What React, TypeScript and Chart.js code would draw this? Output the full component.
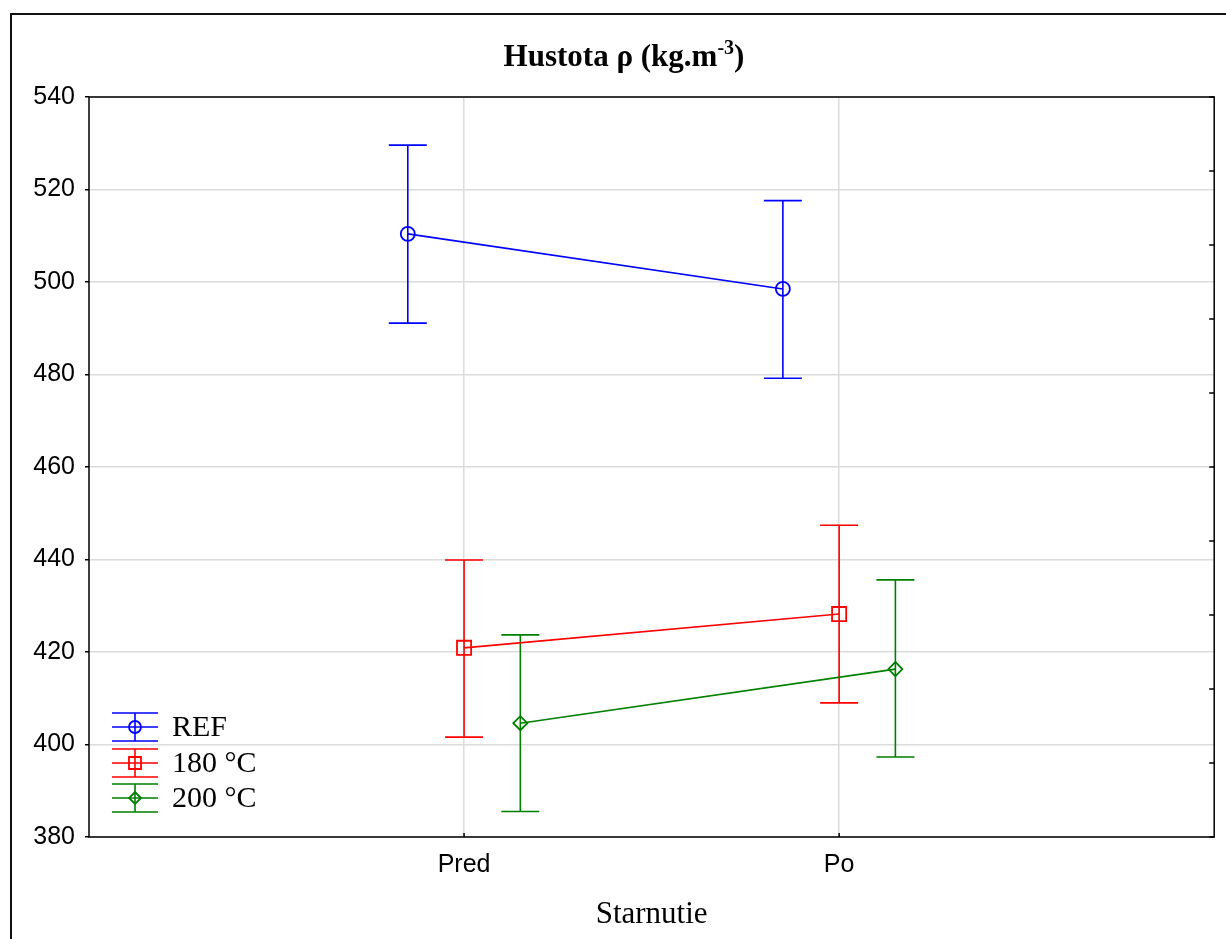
import React, { useEffect, useRef } from 'react';
import { Chart, registerables } from 'chart.js';

Chart.register(...registerables);

// ---- data ----
const categories = ['Pred', 'Po'];
const seriesLabels = ['REF', '180 °C', '200 °C'];
const refMean = [510.4, 498.5];
const refLow = [491.1, 479.2];
const refHigh = [529.6, 517.6];
const t180Mean = [420.9, 428.2];
const t180Low = [401.6, 409.0];
const t180High = [439.9, 447.4];
const t200Mean = [404.6, 416.3];
const t200Low = [385.5, 397.3];
const t200High = [423.7, 435.6];
const yMin = 380;
const yMax = 540;
const yStep = 20;
const rightMinorStep = 16;
const titleMain = 'Hustota ρ (kg.m';
const titleSup = '-3';
const titleEnd = ')';
const xTitle = 'Starnutie';

// ---- styles ----
const colors = ['#0000ff', '#ff0000', '#008000'];
const pointStyles = ['circle', 'rect', 'rectRot'];
const pointRadii = [7, 10, 7];
const seriesOffsets = [-0.15, 0, 0.15];
const SERIF = '"Liberation Serif", "Times New Roman", serif';
const SANS = '"Liberation Sans", Arial, sans-serif';

function buildDataset(i: number, means: number[], lows: number[], highs: number[]) {
  return {
    label: seriesLabels[i],
    data: means.map((v, k) => ({ x: k + 1 + seriesOffsets[i], y: v })),
    errLow: lows,
    errHigh: highs,
    borderColor: colors[i],
    backgroundColor: 'rgba(0,0,0,0)',
    pointBackgroundColor: 'rgba(0,0,0,0)',
    pointBorderColor: colors[i],
    pointBorderWidth: 1.8,
    pointStyle: pointStyles[i],
    pointRadius: pointRadii[i],
    borderWidth: 1.6,
    showLine: true,
    tension: 0,
  };
}

function drawMarker(ctx: CanvasRenderingContext2D, style: string, x: number, y: number, r: number) {
  ctx.beginPath();
  if (style === 'circle') {
    ctx.arc(x, y, r, 0, Math.PI * 2);
  } else if (style === 'rect') {
    const s = r * Math.SQRT1_2;
    ctx.rect(x - s, y - s, 2 * s, 2 * s);
  } else {
    ctx.moveTo(x, y - r);
    ctx.lineTo(x + r, y);
    ctx.lineTo(x, y + r);
    ctx.lineTo(x - r, y);
    ctx.closePath();
  }
  ctx.stroke();
}

const decorPlugin = {
  id: 'decor',
  beforeDatasetsDraw(chart: any) {
    const ctx: CanvasRenderingContext2D = chart.ctx;
    const { left, right, top, bottom } = chart.chartArea;
    const ys = chart.scales.y;
    const xs = chart.scales.x;
    ctx.save();
    // plot frame
    ctx.strokeStyle = '#000';
    ctx.lineWidth = 1.5;
    ctx.strokeRect(left, top, right - left, bottom - top);
    // right axis inner ticks
    ctx.beginPath();
    for (let v = yMax; v >= yMin; v -= rightMinorStep) {
      const py = ys.getPixelForValue(v);
      ctx.moveTo(right - 5, py);
      ctx.lineTo(right, py);
    }
    // bottom axis inner ticks
    categories.forEach((_, i) => {
      const px = xs.getPixelForValue(i + 1);
      ctx.moveTo(px, bottom);
      ctx.lineTo(px, bottom - 4);
    });
    ctx.stroke();
    // outer frame
    ctx.lineWidth = 2;
    ctx.strokeStyle = '#111';
    ctx.beginPath();
    ctx.moveTo(11, chart.height + 2);
    ctx.lineTo(11, 14);
    ctx.lineTo(chart.width + 2, 14);
    ctx.stroke();

    // error bars
    chart.data.datasets.forEach((ds: any, di: number) => {
      const meta = chart.getDatasetMeta(di);
      ctx.strokeStyle = ds.borderColor;
      ctx.lineWidth = 1.6;
      ctx.beginPath();
      meta.data.forEach((pt: any, i: number) => {
        const x = pt.x;
        const yl = ys.getPixelForValue(ds.errLow[i]);
        const yh = ys.getPixelForValue(ds.errHigh[i]);
        ctx.moveTo(x, yh);
        ctx.lineTo(x, yl);
        ctx.moveTo(x - 19, yh);
        ctx.lineTo(x + 19, yh);
        ctx.moveTo(x - 19, yl);
        ctx.lineTo(x + 19, yl);
      });
      ctx.stroke();
    });
    ctx.restore();
  },
  afterDraw(chart: any) {
    const ctx: CanvasRenderingContext2D = chart.ctx;
    ctx.save();
    // title with superscript
    const mainFont = `bold 31px ${SERIF}`;
    const supFont = `bold 20px ${SERIF}`;
    ctx.font = mainFont;
    const w1 = ctx.measureText(titleMain).width;
    const w3 = ctx.measureText(titleEnd).width;
    ctx.font = supFont;
    const w2 = ctx.measureText(titleSup).width;
    const total = w1 + w2 + w3;
    let x = 624 - total / 2;
    const base = 66;
    ctx.fillStyle = '#000';
    ctx.textBaseline = 'alphabetic';
    ctx.textAlign = 'left';
    ctx.font = mainFont;
    ctx.fillText(titleMain, x, base);
    x += w1;
    ctx.font = supFont;
    ctx.fillText(titleSup, x, base - 12);
    x += w2;
    ctx.font = mainFont;
    ctx.fillText(titleEnd, x, base);

    // legend
    const rows = [727, 763, 798];
    chart.data.datasets.forEach((ds: any, i: number) => {
      const cy = rows[i];
      const cx = 135;
      ctx.strokeStyle = ds.borderColor;
      ctx.lineWidth = 1.6;
      ctx.beginPath();
      ctx.moveTo(112, cy - 14);
      ctx.lineTo(158, cy - 14);
      ctx.moveTo(112, cy);
      ctx.lineTo(158, cy);
      ctx.moveTo(112, cy + 14);
      ctx.lineTo(158, cy + 14);
      ctx.moveTo(cx, cy - 14);
      ctx.lineTo(cx, cy + 14);
      ctx.stroke();
      ctx.lineWidth = 1.8;
      drawMarker(ctx, pointStyles[i], cx, cy, i === 1 ? 8.5 : 6);
      ctx.fillStyle = '#000';
      ctx.font = `30px ${SERIF}`;
      ctx.textBaseline = 'middle';
      ctx.fillText(ds.label, 172, cy + 1);
    });
    ctx.restore();
  },
};

export default function App() {
  const canvasRef = useRef<HTMLCanvasElement | null>(null);

  useEffect(() => {
    if (!canvasRef.current) return;
    const chart = new Chart(canvasRef.current, {
      type: 'line',
      data: {
        datasets: [
          buildDataset(0, refMean, refLow, refHigh),
          buildDataset(1, t180Mean, t180Low, t180High),
          buildDataset(2, t200Mean, t200Low, t200High),
        ] as any,
      },
      options: {
        animation: false,
        responsive: false,
        maintainAspectRatio: false,
        layout: { padding: { left: 0, right: 8, top: 97, bottom: 0 } },
        plugins: {
          legend: { display: false },
          title: { display: false },
          tooltip: { enabled: false },
        },
        scales: {
          x: {
            type: 'linear',
            min: 0,
            max: categories.length + 1,
            afterBuildTicks: (scale: any) => {
              scale.ticks = categories.map((_, i) => ({ value: i + 1 }));
            },
            afterFit: (scale: any) => {
              scale.height = 102;
            },
            grid: {
              color: '#dcdcdc',
              lineWidth: 1.5,
              drawTicks: false,
            },
            border: { display: false },
            ticks: {
              autoSkip: false,
              maxRotation: 0,
              padding: 13,
              color: '#000',
              font: { family: SANS, size: 25 },
              callback: (v: any) => categories[Math.round(Number(v)) - 1] ?? '',
            },
            title: {
              display: true,
              text: xTitle,
              color: '#000',
              font: { family: SERIF, size: 31 },
              padding: { top: 0, bottom: 6 },
            },
          },
          y: {
            type: 'linear',
            min: yMin,
            max: yMax,
            afterFit: (scale: any) => {
              scale.width = 89;
            },
            grid: {
              color: '#dcdcdc',
              lineWidth: 1.5,
              tickColor: '#000',
              tickLength: 4,
            },
            border: { display: false },
            ticks: {
              stepSize: yStep,
              padding: 10,
              color: '#000',
              font: { family: SANS, size: 25 },
            },
          },
        },
      },
      plugins: [decorPlugin],
    } as any);
    return () => chart.destroy();
  }, []);

  return (
    <div style={{ position: 'absolute', left: 0, top: 0, width: 1226, height: 939, background: '#fff' }}>
      <canvas ref={canvasRef} width={1226} height={939} style={{ display: 'block' }} />
    </div>
  );
}
